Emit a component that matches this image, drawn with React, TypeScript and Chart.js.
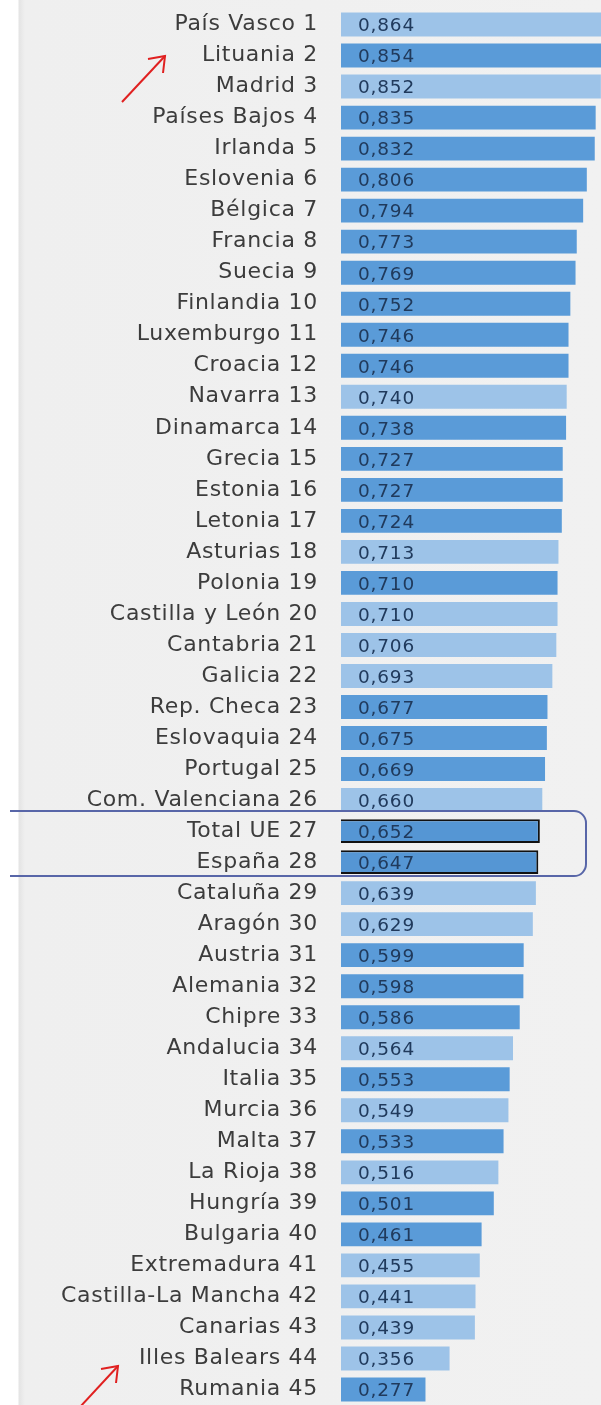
import React, { useEffect, useRef } from "react";
import { Chart, registerables } from "chart.js";

Chart.register(...registerables);

const labels: string[] = [
  "País Vasco 1", "Lituania 2", "Madrid 3", "Países Bajos 4", "Irlanda 5",
  "Eslovenia 6", "Bélgica 7", "Francia 8", "Suecia 9", "Finlandia 10",
  "Luxemburgo 11", "Croacia 12", "Navarra 13", "Dinamarca 14", "Grecia 15",
  "Estonia 16", "Letonia 17", "Asturias 18", "Polonia 19", "Castilla y León 20",
  "Cantabria 21", "Galicia 22", "Rep. Checa 23", "Eslovaquia 24", "Portugal 25",
  "Com. Valenciana 26", "Total UE 27", "España 28", "Cataluña 29", "Aragón 30",
  "Austria 31", "Alemania 32", "Chipre 33", "Andalucia 34", "Italia 35",
  "Murcia 36", "Malta 37", "La Rioja 38", "Hungría 39", "Bulgaria 40",
  "Extremadura 41", "Castilla-La Mancha 42", "Canarias 43", "Illes Balears 44", "Rumania 45",
];

const values: number[] = [
  0.864, 0.854, 0.852, 0.835, 0.832,
  0.806, 0.794, 0.773, 0.769, 0.752,
  0.746, 0.746, 0.740, 0.738, 0.727,
  0.727, 0.724, 0.713, 0.710, 0.710,
  0.706, 0.693, 0.677, 0.675, 0.669,
  0.660, 0.652, 0.647, 0.639, 0.629,
  0.599, 0.598, 0.586, 0.564, 0.553,
  0.549, 0.533, 0.516, 0.501, 0.461,
  0.455, 0.441, 0.439, 0.356, 0.277,
];

// R = Spanish region, C = EU country, T = highlighted total
const kinds: string[] = [
  "R", "C", "R", "C", "C",
  "C", "C", "C", "C", "C",
  "C", "C", "R", "C", "C",
  "C", "C", "R", "C", "R",
  "R", "R", "C", "C", "C",
  "R", "T", "T", "R", "R",
  "C", "C", "C", "R", "C",
  "R", "C", "R", "C", "C",
  "R", "R", "R", "R", "C",
];

const highlighted: string[] = ["Total UE 27", "España 28"];

const COLOR_REGION = "#9dc3e8";
const COLOR_COUNTRY = "#5a9bd8";
const COLOR_TOTAL = "#5596d4";

const spacingPlugin = {
  id: "spacing",
  beforeDraw(chart: any) {
    chart.ctx.letterSpacing = "0.7px";
  },
};

const valueLabelPlugin = {
  id: "valueLabels",
  afterDatasetsDraw(chart: any) {
    const { ctx } = chart;
    const meta = chart.getDatasetMeta(0);
    ctx.save();
    ctx.letterSpacing = "0.8px";
    ctx.font = "18.5px 'DejaVu Sans', sans-serif";
    ctx.fillStyle = "#203a5c";
    ctx.textAlign = "left";
    ctx.textBaseline = "middle";
    meta.data.forEach((bar: any, i: number) => {
      const txt = values[i].toFixed(3).replace(".", ",");
      ctx.fillText(txt, chart.scales.x.getPixelForValue(0) + 17, bar.y + 2);
    });
    ctx.restore();
  },
};

const overlayPlugin = {
  id: "overlay",
  afterDraw(chart: any) {
    const { ctx } = chart;
    const y = chart.scales.y;
    const i0 = labels.indexOf(highlighted[0]);
    const i1 = labels.indexOf(highlighted[1]);
    const top = y.getPixelForValue(i0) - 20;
    const bottom = y.getPixelForValue(i1) + 14;
    const left = 10;
    const right = 586;
    const r = 12;
    ctx.save();
    ctx.letterSpacing = "0px";
    ctx.strokeStyle = "#5866a8";
    ctx.lineWidth = 2;
    ctx.beginPath();
    ctx.moveTo(left, top);
    ctx.lineTo(right - r, top);
    ctx.arcTo(right, top, right, top + r, r);
    ctx.lineTo(right, bottom - r);
    ctx.arcTo(right, bottom, right - r, bottom, r);
    ctx.lineTo(left, bottom);
    ctx.stroke();

    // red arrows
    ctx.strokeStyle = "#e02020";
    ctx.lineWidth = 2;
    const arrow = (x1: number, y1: number, x2: number, y2: number) => {
      ctx.beginPath();
      ctx.moveTo(x1, y1);
      ctx.lineTo(x2, y2);
      ctx.stroke();
      ctx.beginPath();
      ctx.moveTo(x2 - 17, y2 + 3);
      ctx.lineTo(x2, y2);
      ctx.lineTo(x2 - 2, y2 + 17);
      ctx.stroke();
    };
    arrow(122, 102, 165, 56);
    arrow(80, 1407, 118, 1366);
    ctx.restore();
  },
};

export default function App() {
  const ref = useRef<HTMLCanvasElement | null>(null);

  useEffect(() => {
    if (!ref.current) return;
    const bg = kinds.map((k) => (k === "R" ? COLOR_REGION : k === "C" ? COLOR_COUNTRY : COLOR_TOTAL));
    const bw = kinds.map((k) => (k === "T" ? 2 : 0));
    const chart = new Chart(ref.current, {
      type: "bar",
      data: {
        labels,
        datasets: [
          {
            data: values,
            backgroundColor: bg,
            borderColor: "#111111",
            borderWidth: bw,
            barPercentage: 0.77,
            categoryPercentage: 1,
          },
        ],
      },
      options: {
        indexAxis: "y",
        animation: false,
        responsive: false,
        devicePixelRatio: 1,
        layout: { autoPadding: false, padding: { top: 9, bottom: 0, left: 0, right: 0 } },
        plugins: {
          legend: { display: false },
          tooltip: { enabled: false },
          title: { display: false },
        },
        scales: {
          x: {
            min: 0,
            max: 0.8525,
            display: false,
            grid: { display: false },
          },
          y: {
            grid: { display: false, drawTicks: false },
            border: { display: false },
            afterFit: (scale: any) => {
              scale.width = 341;
              scale.paddingTop = 0;
              scale.paddingBottom = 0;
            },
            ticks: {
              autoSkip: false,
              padding: 23,
              color: "#3c3c3c",
              font: { family: "'DejaVu Sans', sans-serif", size: 22 },
            },
          },
        },
      },
      plugins: [spacingPlugin, valueLabelPlugin, overlayPlugin],
    });
    return () => chart.destroy();
  }, []);

  return (
    <div
      style={{
        position: "fixed",
        left: 0,
        top: 0,
        width: 601,
        height: 1405,
        background: "linear-gradient(to right, #ffffff 0px, #ffffff 18px, #e4e4e4 19px, #efefef 25px, #f1f1f1 100%)",
        overflow: "hidden",
      }}
    >
      <canvas ref={ref} width={601} height={1405} style={{ display: "block" }} />
    </div>
  );
}
